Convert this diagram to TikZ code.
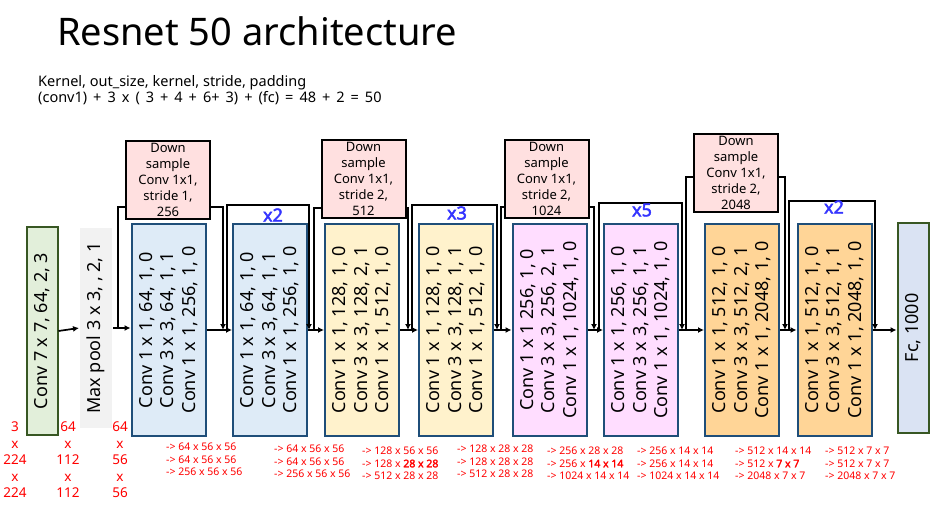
\documentclass[tikz,border=0pt]{standalone}
\usepackage{fontspec}
\setmainfont{Noto Sans}[AutoFakeBold=2.5]
\usetikzlibrary{arrows.meta}

\definecolor{convgreen}{HTML}{E2EFDA}
\definecolor{darkgreen}{HTML}{385723}
\definecolor{poolgray}{HTML}{F2F2F2}
\definecolor{boxblue}{HTML}{1F4E79}
\definecolor{stageblue}{HTML}{DEEBF7}
\definecolor{stageyellow}{HTML}{FFF2CC}
\definecolor{stagepink}{HTML}{FFDDFF}
\definecolor{stageorange}{HTML}{FFD597}
\definecolor{fcblue}{HTML}{DAE3F3}
\definecolor{dspink}{HTML}{FFE0E0}
\definecolor{repblue}{HTML}{3434FF}

\tikzset{
  stage/.style={draw=boxblue, line width=2pt, minimum width=74pt, minimum height=212pt, inner sep=0pt},
  layer/.style={line width=2pt, minimum width=31pt, inner sep=0pt},
  conv/.style={rotate=90, align=center, inner sep=0pt, font=\fontsize{18}{21.5}\selectfont},
  down/.style={draw, fill=dspink, line width=2pt, minimum width=84pt, minimum height=77pt, inner sep=0pt},
  dstext/.style={align=center, inner sep=0pt, font=\fontsize{13}{16}\selectfont},
  link/.style={line width=1.7pt},
  arr/.style={link, -{Latex[length=6pt,width=6pt]}},
  rep/.style={text=repblue, inner sep=0pt, font=\fontsize{18}{18}\selectfont\bfseries},
  chan/.style={text=red, align=center, anchor=north, inner sep=0pt, font=\fontsize{13.5}{16.5}\selectfont},
  dims/.style={text=red, align=left, anchor=north west, inner sep=0pt, font=\fontsize{10.5}{12.5}\selectfont},
}

\begin{document}
\begin{tikzpicture}[x=1pt, y=-1pt]
    \useasboundingbox (0,0) rectangle (942,516);

    % heading
    \node[anchor=base west, inner sep=0pt, font=\fontsize{38}{42}\selectfont] (title) at (57,46) {Resnet 50 architecture};
    \node[anchor=base west, inner sep=0pt, font=\fontsize{14.5}{16}\selectfont] (legend) at (38,87) {Kernel, out\_size, kernel, stride, padding};
    \node[anchor=base west, inner sep=0pt, font=\fontsize{14.5}{16}\selectfont] (count) at (38,103) {\spaceskip=6pt\relax (conv1) + 3 x ( 3 + 4 + 6+ 3) + (fc) = 48 + 2 = 50};

    % stem
    \node[layer, draw=darkgreen, fill=convgreen, minimum height=208pt] (c1) at (42,331) {};
    \node[conv] (c1t) at (c1) {Conv 7 x 7, 64, 2, 3};
    \node[layer, fill=poolgray, minimum width=32pt, minimum height=200pt] (mp) at (96,328) {};
    \node[conv] (mpt) at (mp) {Max pool 3 x 3, , 2, 1};

    % bottleneck blocks
    \node[stage, fill=stageblue] (b1) at (168.5,330) {};
    \node[stage, fill=stageblue] (b2) at (270,330) {};
    \node[stage, fill=stageyellow] (b3) at (362,330) {};
    \node[stage, fill=stageyellow] (b4) at (456,330) {};
    \node[stage, fill=stagepink] (b5) at (549.5,330) {};
    \node[stage, fill=stagepink] (b6) at (641,330) {};
    \node[stage, fill=stageorange] (b7) at (742,330) {};
    \node[stage, fill=stageorange] (b8) at (834.5,330) {};
    \node[layer, draw=darkgreen, fill=fcblue, minimum height=210pt] (fc) at (913,328) {};

    \node[conv] (b1t) at (b1) {Conv 1 x 1, 64, 1, 0\\Conv 3 x 3, 64, 1, 1\\Conv 1 x 1, 256, 1, 0};
    \node[conv] (b2t) at (b2) {Conv 1 x 1, 64, 1, 0\\Conv 3 x 3, 64, 1, 1\\Conv 1 x 1, 256, 1, 0};
    \node[conv] (b3t) at (b3) {Conv 1 x 1, 128, 1, 0\\Conv 3 x 3, 128, 2, 1\\Conv 1 x 1, 512, 1, 0};
    \node[conv] (b4t) at (b4) {Conv 1 x 1, 128, 1, 0\\Conv 3 x 3, 128, 1, 1\\Conv 1 x 1, 512, 1, 0};
    \node[conv] (b5t) at (b5) {Conv 1 x 1 256, 1, 0\\Conv 3 x 3, 256, 2, 1\\Conv 1 x 1, 1024, 1, 0};
    \node[conv] (b6t) at (b6) {Conv 1 x 1, 256, 1, 0\\Conv 3 x 3, 256, 1, 1\\Conv 1 x 1, 1024, 1, 0};
    \node[conv] (b7t) at (b7) {Conv 1 x 1, 512, 1, 0\\Conv 3 x 3, 512, 2, 1\\Conv 1 x 1, 2048, 1, 0};
    \node[conv] (b8t) at (b8) {Conv 1 x 1, 512, 1, 0\\Conv 3 x 3, 512, 1, 1\\Conv 1 x 1, 2048, 1, 0};
    \node[conv] (fct) at (fc) {Fc, 1000};

    % down sample boxes
    \node[down] (ds1) at (168,180) {};
    \node[down] (ds2) at (363.5,179) {};
    \node[down] (ds3) at (546.5,179) {};
    \node[down] (ds4) at (736,173) {};
    \node[dstext] (ds1t) at (ds1) {Down\\sample\\Conv 1x1,\\stride 1,\\256};
    \node[dstext] (ds2t) at (ds2) {Down\\sample\\Conv 1x1,\\stride 2,\\512};
    \node[dstext] (ds3t) at (ds3) {Down\\sample\\Conv 1x1,\\stride 2,\\1024};
    \node[dstext] (ds4t) at (ds4) {Down\\sample\\Conv 1x1,\\stride 2,\\2048};

    % main path
    \draw[arr] (c1.east) -- (mp.west);
    \draw[arr] (mp.east) -- (mp.east -| b1.west);
    \draw[arr] (b1) -- (b2);
    \draw[arr] (b2) -- (b3);
    \draw[arr] (b3) -- (b4);
    \draw[arr] (b4) -- (b5);
    \draw[arr] (b5) -- (b6);
    \draw[arr] (b6) -- (b7);
    \draw[arr] (b7) -- (b8);
    \draw[arr] (b8.east) -- (b8.east -| fc.west);

    % shortcut with down sampling
    \coordinate (j1) at (118,328);  \coordinate (k1) at (118,207);  \coordinate (t1) at (223,330);
    \coordinate (j2) at (314,330);  \coordinate (k2) at (314,208);  \coordinate (t2) at (408,330);
    \coordinate (j3) at (501,330);  \coordinate (k3) at (501,207);  \coordinate (t3) at (594,330);
    \coordinate (j4) at (686,330);  \coordinate (k4) at (686,177);  \coordinate (t4) at (785,330);
    \draw[link] (j1) -- (k1) -- (k1 -| ds1.west);
    \draw[arr] (k1 -| ds1.east) -| (t1);
    \draw[link] (j2) -- (k2) -- (k2 -| ds2.west);
    \draw[arr] (k2 -| ds2.east) -| (t2);
    \draw[link] (j3) -- (k3) -- (k3 -| ds3.west);
    \draw[arr] (k3 -| ds3.east) -| (t3);
    \draw[link] (j4) -- (k4) -- (k4 -| ds4.west);
    \draw[arr] (k4 -| ds4.east) -| (t4);

    % repeated identity blocks
    \coordinate (u1) at (227,330);  \coordinate (v1) at (309,330);  \coordinate (top1) at (0,205);
    \coordinate (u2) at (412,330);  \coordinate (v2) at (497,330);  \coordinate (top2) at (0,205);
    \coordinate (u3) at (599,330);  \coordinate (v3) at (682,330);  \coordinate (top3) at (0,203);
    \coordinate (u4) at (789,330);  \coordinate (v4) at (875,330);  \coordinate (top4) at (0,201);
    \draw[arr] (u1) |- (top1 -| v1) -- (v1);
    \draw[arr] (u2) |- (top2 -| v2) -- (v2);
    \draw[arr] (u3) |- (top3 -| v3) -- (v3);
    \draw[arr] (u4) |- (top4 -| v4) -- (v4);
    \node[rep] (rep1) at (273,215) {x2};
    \node[rep] (rep2) at (457,213) {x3};
    \node[rep] (rep3) at (642,210) {x5};
    \node[rep] (rep4) at (834,207) {x2};

    % feature sizes
    \node[chan] (in0) at (15,422) {3\\x\\224\\x\\224};
    \node[chan] (in1) at (68,422) {64\\x\\112\\x\\112};
    \node[chan] (in2) at (120,422) {64\\x\\56\\x\\56};
    \foreach \px/\py/\la/\lb/\lc in {
        166/443/64 x 56 x 56/64 x 56 x 56/256 x 56 x 56,
        274/445/64 x 56 x 56/64 x 56 x 56/256 x 56 x 56,
        362/447/128 x 56 x 56/128 x \textbf{28 x 28}/512 x 28 x 28,
        457/445/128 x 28 x 28/128 x 28 x 28/512 x 28 x 28,
        547/447/256 x 28 x 28/256 x \textbf{14 x 14}/1024 x 14 x 14,
        637/447/256 x 14 x 14/256 x 14 x 14/1024 x 14 x 14,
        735/447/512 x 14 x 14/512 x \textbf{7 x 7}/2048 x 7 x 7,
        825/447/512 x 7 x 7/512 x 7 x 7/2048 x 7 x 7}
        \node[dims] (out\px) at (\px,\py) {-> \la\\-> \lb\\-> \lc};
\end{tikzpicture}
\end{document}
